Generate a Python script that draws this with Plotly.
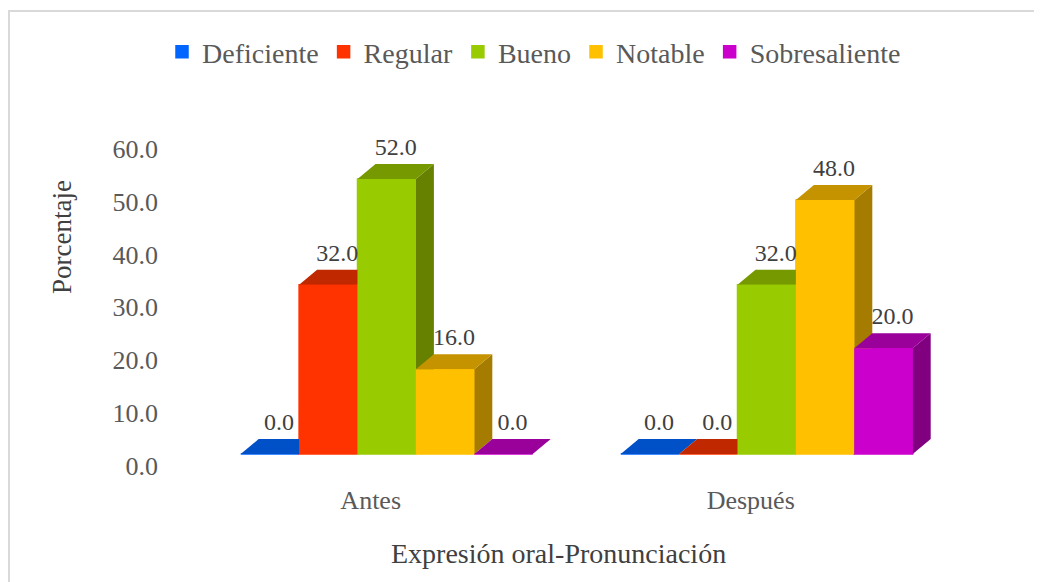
import plotly.graph_objects as go

# ---------------- data ----------------
categories = ["Antes", "Después"]
series_names = ["Deficiente", "Regular", "Bueno", "Notable", "Sobresaliente"]
antes = [0.0, 32.0, 52.0, 16.0, 0.0]
despues = [0.0, 0.0, 32.0, 48.0, 20.0]
y_ticks = [0, 10, 20, 30, 40, 50, 60]
x_title = "Expresión oral-Pronunciación"
y_title = "Porcentaje"

# ---------------- styling ----------------
front_colors = ["#0066FF", "#FF3300", "#99CC00", "#FFC000", "#CC00CC"]
top_colors = ["#0050C8", "#C02800", "#779900", "#C69300", "#9A009A"]
side_colors = ["#003FA0", "#A02000", "#668000", "#A67C00", "#800080"]
FONT = "Liberation Serif"
TXT = "#595959"
LBL = "#404040"

OFF = 8                                  # page body margin compensation
W, H = 1042 - OFF, 582 - OFF


def P(v):
    """reference-pixel -> figure-pixel"""
    return v - OFF


L, R, T, B = P(165), P(960), P(130), P(470)   # plot area in figure pixels
PX_CAT = 380.0                           # pixels per category
BAR_W = 58.4 / PX_CAT                    # bar width in x units
DX = 18.0 / PX_CAT                       # depth offset x
K = 5.29                                 # pixels per y unit
ZERO_Y = P(454.0)                        # floor-front pixel
DY = 15.0 / K                            # depth offset y
LABEL_LIFT = 3.0 / K
LABEL_SHIFT_X = 16.0 / PX_CAT
LABEL_SHIFT_Y = 12.0 / K

x_lo = -(P(386.7) - L) / PX_CAT
x_hi = x_lo + (R - L) / PX_CAT
y_lo = -(B - ZERO_Y) / K
y_hi = y_lo + (B - T) / K

series_vals = [[antes[j], despues[j]] for j in range(len(series_names))]
n = len(series_names)

fig = go.Figure()

# legend + base front faces as bars
for j, name in enumerate(series_names):
    xs = [g + (j - (n - 1) / 2) * BAR_W for g in range(len(categories))]
    fig.add_trace(go.Bar(
        x=xs, y=series_vals[j], width=BAR_W, name=name,
        marker=dict(color=front_colors[j], line=dict(width=1.5, color=front_colors[j])),
        hoverinfo="skip"))

# 3D faces drawn in painter order
for g in range(len(categories)):
    for j in range(n):
        v = series_vals[j][g]
        xc = g + (j - (n - 1) / 2) * BAR_W
        x0, x1 = xc - BAR_W / 2, xc + BAR_W / 2
        faces = [
            ([x1, x1, x1 + DX, x1 + DX, x1], [0, v, v + DY, DY, 0], side_colors[j]),
            ([x0, x1, x1 + DX, x0 + DX, x0], [v, v, v + DY, v + DY, v], top_colors[j]),
            ([x0, x1, x1, x0, x0], [0, 0, v, v, 0], front_colors[j]),
        ]
        for fx, fy, col in faces:
            fig.add_trace(go.Scatter(
                x=fx, y=fy, mode="lines", fill="toself",
                fillcolor=col, line=dict(width=0, color=col),
                showlegend=False, hoverinfo="skip"))

# data labels
lx, ly, lt = [], [], []
for g in range(len(categories)):
    for j in range(n):
        v = series_vals[j][g]
        xc = g + (j - (n - 1) / 2) * BAR_W
        lx.append(xc + DX / 2)
        ly.append(v + DY + LABEL_LIFT)
        lt.append(f"{v:.1f}")
fig.add_trace(go.Scatter(
    x=lx, y=ly, mode="text", text=lt, textposition="top center",
    textfont=dict(family=FONT, size=24, color=LBL),
    showlegend=False, hoverinfo="skip"))


def px_to_paper_x(px):
    return (P(px) - L) / (R - L)


def px_to_paper_y(py):
    return (B - P(py)) / (B - T)


fig.update_layout(
    width=W, height=H,
    margin=dict(l=L, r=W - R, t=T, b=H - B, autoexpand=False),
    paper_bgcolor="white", plot_bgcolor="white",
    font=dict(family=FONT, size=26, color=TXT),
    barmode="overlay",
    showlegend=True,
    legend=dict(orientation="h", x=px_to_paper_x(534), xanchor="center",
                y=px_to_paper_y(52), yanchor="middle",
                font=dict(family=FONT, size=28, color=TXT),
                traceorder="normal", itemclick=False, itemdoubleclick=False),
    xaxis=dict(range=[x_lo, x_hi], showgrid=False, zeroline=False,
               showline=False, ticks="",
               tickvals=[g - LABEL_SHIFT_X for g in range(len(categories))],
               ticktext=categories, ticklabelstandoff=12,
               tickfont=dict(family=FONT, size=26, color=TXT)),
    yaxis=dict(range=[y_lo, y_hi], showgrid=False, zeroline=False,
               showline=False, ticks="",
               tickvals=[t - LABEL_SHIFT_Y for t in y_ticks],
               ticktext=[f"{t:.1f}" for t in y_ticks],
               ticklabelstandoff=6,
               tickfont=dict(family=FONT, size=26, color=TXT)),
    annotations=[
        dict(text=y_title, x=px_to_paper_x(62), y=px_to_paper_y(237),
             xref="paper", yref="paper", showarrow=False, textangle=-90,
             xanchor="center", yanchor="middle",
             font=dict(family=FONT, size=27, color=LBL)),
        dict(text=x_title, x=px_to_paper_x(558), y=px_to_paper_y(553),
             xref="paper", yref="paper", showarrow=False,
             xanchor="center", yanchor="middle",
             font=dict(family=FONT, size=28, color=LBL)),
    ],
    shapes=[dict(type="rect", xref="paper", yref="paper",
                 x0=px_to_paper_x(9), x1=px_to_paper_x(1080),
                 y0=px_to_paper_y(620), y1=px_to_paper_y(11),
                 line=dict(color="#D9D9D9", width=2), layer="below")],
)

fig.write_html("out.html")
